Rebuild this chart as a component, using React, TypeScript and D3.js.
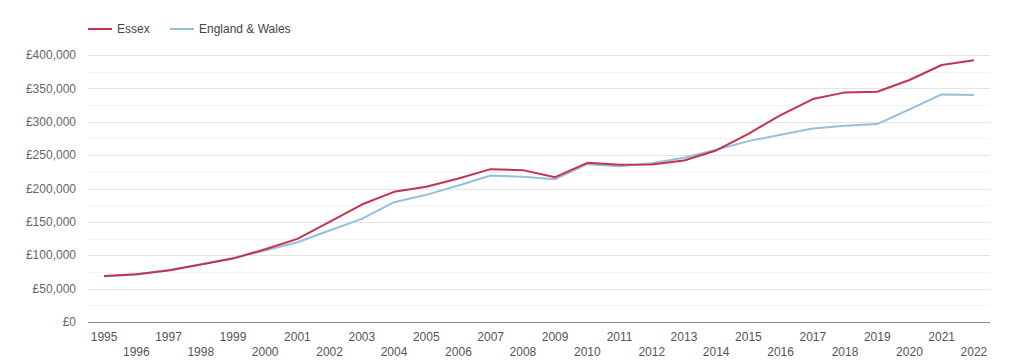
import React, { useRef, useEffect } from "react";
import * as d3 from "d3";

const years = [
  1995, 1996, 1997, 1998, 1999, 2000, 2001, 2002, 2003, 2004, 2005, 2006, 2007, 2008,
  2009, 2010, 2011, 2012, 2013, 2014, 2015, 2016, 2017, 2018, 2019, 2020, 2021, 2022,
];

const essex = [
  69000, 71500, 77000, 86000, 95000, 109000, 124500, 150000, 176000, 195000, 202500,
  215000, 229000, 227500, 217000, 238500, 235500, 236000, 242000, 257000, 282000,
  310000, 334000, 344000, 345000, 362500, 385000, 392000,
];

const englandWales = [
  68000, 71000, 78000, 86000, 96000, 107000, 119500, 137000, 154500, 179500, 190500,
  204500, 219500, 217500, 214000, 236500, 233500, 238000, 246000, 258000, 271000,
  280500, 290000, 294000, 296500, 318500, 341000, 340000,
];

const yTicks = [0, 50000, 100000, 150000, 200000, 250000, 300000, 350000, 400000];
const yMinorTicks = [25000, 75000, 125000, 175000, 225000, 275000, 325000, 375000];

const seriesNames = ["Essex", "England & Wales"];
const seriesColors = ["#c3334f", "#93c0dd"];

const width = 1024;
const height = 363;
const margin = { top: 55, right: 34, bottom: 41, left: 88 };
const font = "Arial, 'Liberation Sans', sans-serif";

const App = () => {
  const svgRef = useRef<SVGSVGElement>(null);

  useEffect(() => {
    const svg = d3.select(svgRef.current);
    svg.selectAll("*").remove();

    const x = d3.scalePoint<number>()
      .domain(years)
      .range([margin.left, width - margin.right])
      .padding(0.5);

    const y = d3.scaleLinear()
      .domain([0, 400000])
      .range([height - margin.bottom, margin.top]);

    // minor grid
    svg.append("g")
      .selectAll("line")
      .data(yMinorTicks)
      .enter()
      .append("line")
      .attr("x1", margin.left)
      .attr("x2", width - margin.right)
      .attr("y1", d => Math.round(y(d)) + 0.5)
      .attr("y2", d => Math.round(y(d)) + 0.5)
      .attr("stroke", "#f4f4f4");

    // major grid
    svg.append("g")
      .selectAll("line")
      .data(yTicks.filter(d => d > 0))
      .enter()
      .append("line")
      .attr("x1", margin.left)
      .attr("x2", width - margin.right)
      .attr("y1", d => Math.round(y(d)) + 0.5)
      .attr("y2", d => Math.round(y(d)) + 0.5)
      .attr("stroke", "#e4e4e4");

    // y labels
    const fmt = d3.format(",");
    svg.append("g")
      .selectAll("text")
      .data(yTicks)
      .enter()
      .append("text")
      .attr("x", margin.left - 12)
      .attr("y", d => y(d))
      .attr("dy", "0.35em")
      .attr("text-anchor", "end")
      .style("font-family", font)
      .style("font-size", "12px")
      .style("fill", "#666")
      .text(d => "£" + fmt(d));

    // lines
    const series = [essex, englandWales];
    const line = d3.line<number>()
      .x((_, i) => x(years[i]) as number)
      .y(d => y(d));

    [1, 0].forEach(s => {
      svg.append("path")
        .datum(series[s])
        .attr("fill", "none")
        .attr("stroke", seriesColors[s])
        .attr("stroke-width", 2)
        .attr("stroke-linejoin", "round")
        .attr("d", line);
    });

    // baseline
    svg.append("line")
      .attr("x1", margin.left)
      .attr("x2", width - margin.right)
      .attr("y1", Math.round(y(0)) + 0.5)
      .attr("y2", Math.round(y(0)) + 0.5)
      .attr("stroke", "#888");

    // x labels, staggered on two rows
    svg.append("g")
      .selectAll("text")
      .data(years)
      .enter()
      .append("text")
      .attr("x", d => x(d) as number)
      .attr("y", (d, i) => (i % 2 === 0 ? 341 : 356))
      .attr("text-anchor", "middle")
      .style("font-family", font)
      .style("font-size", "12px")
      .style("fill", "#555")
      .text(d => d);

    // legend
    const legendX = [88, 170];
    seriesNames.forEach((name, i) => {
      svg.append("line")
        .attr("x1", legendX[i])
        .attr("x2", legendX[i] + 24)
        .attr("y1", 29)
        .attr("y2", 29)
        .attr("stroke", seriesColors[i])
        .attr("stroke-width", 2);
      svg.append("text")
        .attr("x", legendX[i] + 29)
        .attr("y", 29)
        .attr("dy", "0.35em")
        .style("font-family", font)
        .style("font-size", "12px")
        .style("fill", "#444")
        .text(name);
    });
  }, []);

  return (
    <svg
      ref={svgRef}
      width={width}
      height={height}
      style={{ position: "absolute", left: 0, top: 0, background: "#fff" }}
    ></svg>
  );
};

export default App;
